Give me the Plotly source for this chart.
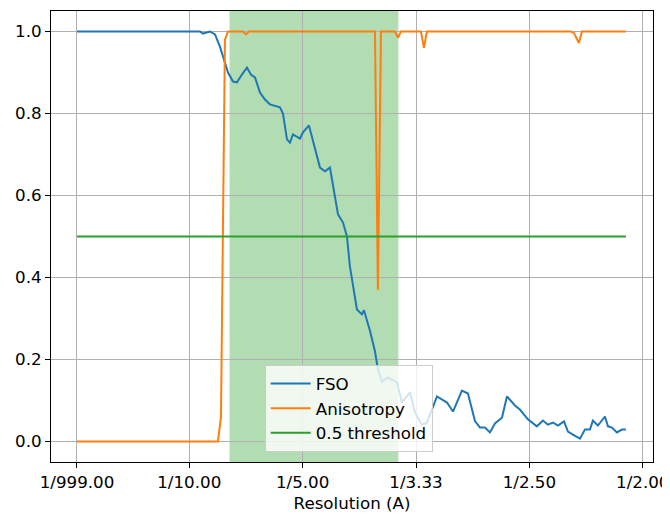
import plotly.graph_objects as go

# spatial frequency (1/A) and curve values
fso_freq = [0.0010, 0.1095, 0.1121, 0.1156, 0.1183, 0.1227, 0.1271, 0.1315, 0.1342, 0.1386,
            0.1421, 0.1465, 0.1509, 0.1544, 0.1580, 0.1624, 0.1668, 0.1712, 0.1800, 0.1827,
            0.1862, 0.1888, 0.1915, 0.1977, 0.2003, 0.2056, 0.2109, 0.2153, 0.2197, 0.2241,
            0.2312, 0.2356, 0.2391, 0.2417, 0.2479, 0.2523, 0.2541, 0.2594, 0.2638, 0.2664,
            0.2700, 0.2753, 0.2832, 0.2876, 0.2947, 0.2991, 0.3052, 0.3096, 0.3185, 0.3273,
            0.3326, 0.3405, 0.3458, 0.3520, 0.3564, 0.3608, 0.3652, 0.3696, 0.3758, 0.3802,
            0.3872, 0.3916, 0.3987, 0.4066, 0.4119, 0.4163, 0.4208, 0.4252, 0.4305, 0.4340,
            0.4384, 0.4446, 0.4490, 0.4534, 0.4560, 0.4604, 0.4666, 0.4693, 0.4728, 0.4772,
            0.4816, 0.4851]
fso = [1.0, 1.0, 0.995, 0.997, 1.0, 0.993, 0.963, 0.924, 0.900, 0.878,
       0.876, 0.895, 0.912, 0.895, 0.888, 0.851, 0.834, 0.822, 0.815, 0.800,
       0.737, 0.729, 0.749, 0.739, 0.754, 0.771, 0.712, 0.668, 0.659, 0.668,
       0.554, 0.534, 0.500, 0.427, 0.322, 0.310, 0.320, 0.270, 0.220, 0.176,
       0.146, 0.156, 0.144, 0.095, 0.120, 0.071, 0.041, 0.046, 0.110, 0.095,
       0.073, 0.124, 0.117, 0.050, 0.034, 0.034, 0.022, 0.044, 0.058, 0.110,
       0.088, 0.078, 0.054, 0.037, 0.051, 0.041, 0.046, 0.039, 0.049, 0.024,
       0.017, 0.007, 0.029, 0.029, 0.051, 0.039, 0.061, 0.037, 0.034, 0.022,
       0.029, 0.029]

aniso_freq = [0.0010, 0.1253, 0.1280, 0.1315, 0.1342, 0.1474, 0.1500, 0.1527, 0.2638, 0.2664,
              0.2691, 0.2814, 0.2841, 0.2867, 0.3043, 0.3070, 0.3096, 0.4366, 0.4393, 0.4437,
              0.4463, 0.4851]
aniso = [0.0, 0.0, 0.06, 0.98, 1.0, 1.0, 0.993, 1.0, 1.0, 0.37,
         1.0, 1.0, 0.985, 1.0, 1.0, 0.96, 1.0, 1.0, 0.996, 0.972,
         1.0, 1.0]

threshold = 0.5
span = (0.136, 0.284)
tick_res = [999, 10, 5, 10 / 3, 2.5, 2]
tick_freq = [1 / r for r in tick_res]
tick_text = [f"1/{r:.2f}" for r in tick_res]

font = dict(family="DejaVu Sans", size=16.7, color="black")

fig = go.Figure()
fig.add_trace(go.Scatter(x=fso_freq, y=fso, mode="lines", name="FSO", legendgroup="a",
                         line=dict(color="#1f77b4", width=2)))
fig.add_trace(go.Scatter(x=aniso_freq, y=aniso, mode="lines", name="Anisotropy", legendgroup="b",
                         line=dict(color="#ff7f0e", width=2)))
fig.add_trace(go.Scatter(x=[fso_freq[0], fso_freq[-1]], y=[threshold, threshold], mode="lines",
                         name="0.5 threshold", legendgroup="c",
                         line=dict(color="#2ca02c", width=2)))

fig.add_vrect(x0=span[0], x1=span[1], fillcolor="#2ca02c", opacity=0.36,
              line=dict(color="#2ca02c", width=1), layer="below")

axis_style = dict(showline=True, linecolor="black", linewidth=1, mirror=True,
                  showgrid=True, gridcolor="#b0b0b0", gridwidth=1,
                  ticks="outside", ticklen=5, tickcolor="black", zeroline=False,
                  tickfont=font)

fig.update_xaxes(range=[-0.0219, 0.509], tickvals=tick_freq, ticktext=tick_text,
                 title=dict(text="Resolution (A)", font=font, standoff=6), **axis_style)
fig.update_yaxes(range=[-0.05, 1.05], tickvals=[0, 0.2, 0.4, 0.6, 0.8, 1.0],
                 tickformat=".1f", **axis_style)

# the page body adds an 8px offset, so the figure is sized to the remaining area
fig.update_layout(
    width=662, height=507,
    margin=dict(l=43, r=17, t=3, b=53, autoexpand=False),
    plot_bgcolor="white", paper_bgcolor="white",
    font=font,
    legend=dict(x=0.355, y=0.022, xanchor="left", yanchor="bottom",
                bgcolor="rgba(255,255,255,0.8)", bordercolor="#cccccc", borderwidth=1,
                tracegroupgap=0, itemwidth=40, font=font),
)

fig.write_html("out.html")
